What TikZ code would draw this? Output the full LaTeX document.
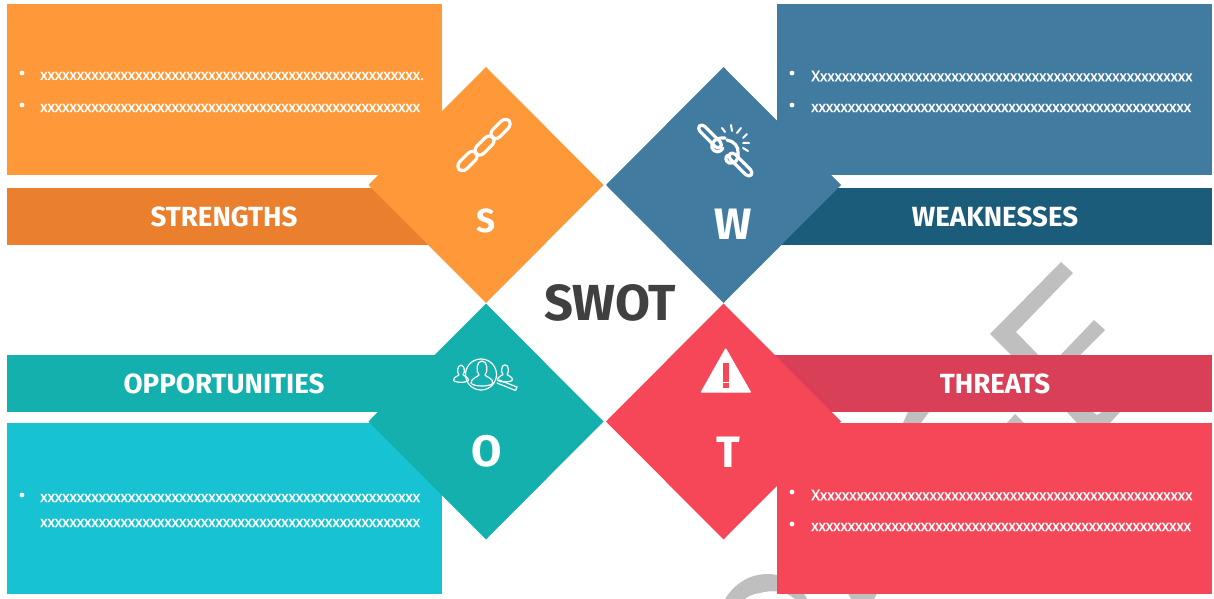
\documentclass[tikz,border=0pt]{standalone}
\usepackage{fontspec}
\usepackage{tikz}
\setmainfont{Carlito}
\newfontfamily\headfont{Fira Sans}
\definecolor{swotorange}{HTML}{FF9838}
\definecolor{swotorangedk}{HTML}{EA7F2E}
\definecolor{swotblue}{HTML}{417BA0}
\definecolor{swotbluedk}{HTML}{1B5C7A}
\definecolor{swotteal}{HTML}{14B0AD}
\definecolor{swotcyan}{HTML}{17C3D3}
\definecolor{swotred}{HTML}{F64759}
\definecolor{swotreddk}{HTML}{D94058}
\definecolor{swotgray}{HTML}{BFBFBF}
\newcommand{\xrow}{xxxxxxxxxxxxxxxxxxxxxxxxxxxxxxxxxxxxxxxxxxxxxxxxxxx}
\tikzset{
  headtxt/.style={text=white,font=\headfont\bfseries\fontsize{20.8}{20.8}\selectfont},
  lettertxt/.style={text=white,font=\headfont\bfseries\fontsize{33}{33}\selectfont},
  rowtxt/.style={text=white,anchor=west,inner sep=0pt,font=\fontsize{12.65}{12.65}\selectfont\addfontfeature{FakeBold=0.4}},
  bulletdot/.style={circle,fill=white,inner sep=0pt,minimum size=3.6pt},
  iconline/.style={draw=white,line cap=round,line join=round}
}
\begin{document}
\begin{tikzpicture}[x=.75pt,y=-.75pt]
  \useasboundingbox (0,0) rectangle (1214,599);
  % watermark behind the boxes
  \fill[swotgray] (1061,262)--(1073,273)--(1016,332)--(1048,365)--(1021,365)--(990,334)--cycle;
  \fill[swotgray] (1094,320)--(1105,330)--(1070,365)--(1051,365)--cycle;
  \fill[swotgray] (908,412)--(929,412)--(921,423)--(903,423)--cycle;
  \fill[swotgray] (1015,414)--(1024,423)--(1007,423)--cycle;
  \fill[swotgray] (1067,412)--(1093,412)--(1097,415)--(1102,412)--(1120,412)--(1110,423)--(1077,423)--cycle;
  \fill[swotgray] (725,599) .. controls (735,583) and (750,574) .. (768,574) .. controls (785,574) and (800,585) .. (807,599)--(795,599) .. controls (785,590) and (770,590) .. (760,593) .. controls (753,594) and (748,596) .. (745,599)--cycle;
  \fill[swotgray] (846,590)--(879,590)--(874,599)--(851,599)--cycle;
  % boxes and bands
  \fill[swotorange] (7,4) rectangle (442,175);
  \fill[swotorangedk] (7,188) rectangle (486,245);
  \fill[swotblue] (777,4) rectangle (1212,175);
  \fill[swotbluedk] (723,188) rectangle (1212,245);
  \fill[swotteal] (7,355) rectangle (486,412);
  \fill[swotcyan] (7,423) rectangle (442,594);
  \fill[swotreddk] (723,355) rectangle (1212,412);
  \fill[swotred] (777,423) rectangle (1212,594);
  % diamonds
  \foreach \cx/\cy/\col in {486/185/swotorange,723.5/185/swotblue,486/421.5/swotteal,723.5/421.5/swotred}
    \fill[\col] (\cx-117.5,\cy)--(\cx,\cy-118)--(\cx+117.5,\cy)--(\cx,\cy+118)--cycle;
  % band titles
  \node[headtxt] (strengths) at (224,217) {STRENGTHS};
  \node[headtxt] (weaknesses) at (995,217) {WEAKNESSES};
  \node[headtxt] (opportunities) at (224,384) {OPPORTUNITIES};
  \node[headtxt] (threats) at (995,384) {THREATS};
  \node[lettertxt,font=\headfont\bfseries\fontsize{25}{25}\selectfont] (lets) at (486,221) {S};
  \node[lettertxt] (letw) at (733,224) {W};
  \node[lettertxt] (leto) at (487,451) {O};
  \node[lettertxt] (lett) at (728,452) {T};
  \node[text=black!75,font=\headfont\bfseries\fontsize{38}{38}\selectfont] (swot) at (610,303) {SWOT};
  % rows of text
  \node[bulletdot] (bs1) at (22,73) {}; \node[rowtxt] (rs1) at (40,76) {\xrow x.};
  \node[bulletdot] (bs2) at (22,105) {}; \node[rowtxt] (rs2) at (40,108) {\xrow x};
  \node[bulletdot] (bw1) at (792,73) {}; \node[rowtxt] (rw1) at (811,76) {X\xrow};
  \node[bulletdot] (bw2) at (792,105) {}; \node[rowtxt] (rw2) at (811,108) {\xrow x};
  \node[bulletdot] (bo1) at (22,495) {}; \node[rowtxt] (ro1) at (40,498) {\xrow x};
  \node[rowtxt] (ro2) at (40,523) {\xrow x};
  \node[bulletdot] (bt1) at (792,492) {}; \node[rowtxt] (rt1) at (811,495) {X\xrow};
  \node[bulletdot] (bt2) at (792,524) {}; \node[rowtxt] (rt2) at (811,527) {\xrow x};
  % chain icon
  \foreach \cx/\cy in {500.5/129,484.5/145.5,467.5/161}
    \draw[iconline,line width=2.4pt,rounded corners=4.5pt,rotate around={45:(\cx,\cy)}] (\cx-12,\cy-5) rectangle (\cx+12,\cy+5);
  % broken chain icon
  \foreach \cx/\cy in {710/136.5,740.5/164.5}
    \draw[iconline,line width=2.4pt,rounded corners=3pt,rotate around={-45:(\cx,\cy)}] (\cx-15,\cy-3.4) rectangle (\cx+15,\cy+3.4);
  \draw[iconline,line width=2.4pt] (725,138) .. controls (717,137) and (710,142) .. (712,148) .. controls (714,153) and (721,153) .. (723,148);
  \draw[iconline,line width=2.4pt] (727,140) .. controls (734,141) and (739,147) .. (738,153) .. controls (739,160) and (735,164) .. (729,163) .. controls (725,161) and (725,157) .. (728,155);
  \draw[iconline,line width=1.5pt] (722,128)--(725,132) (731,125)--(732,131) (741,128)--(737,133)
    (747,134)--(743,138) (749,143)--(743,143) (748,151)--(743,148);
  % people search icon
  \draw[iconline,line width=.9pt] (481,374.5) circle (15.5);
  \foreach \px/\py/\ps in {482/370/1,461/371.4/.68,505/371/.68}
    \draw[iconline,line width=.9pt,shift={(\px*.75pt,-\py*.75pt)},scale=\ps] (-3,5) .. controls (-6,2) and (-6,-9) .. (0,-9) .. controls (6,-9) and (6,2) .. (3,5) .. controls (4,7) and (11,8) .. (11,13) .. controls (9,17) and (-9,17) .. (-11,13) .. controls (-11,8) and (-4,7) .. (-3,5) -- cycle;
  \draw[iconline,line width=.9pt] (499,380)--(517,387)--(515.5,390.5)--(497,383);
  % warning icon
  \fill[white,draw=white,line width=1pt,line join=round] (725.7,349)--(750.2,392)--(701.5,392)--cycle;
  \fill[swotred] (722.7,363) rectangle (729.3,381.7);
  \fill[swotred] (722.7,383) rectangle (729.3,387.5);
\end{tikzpicture}
\end{document}
